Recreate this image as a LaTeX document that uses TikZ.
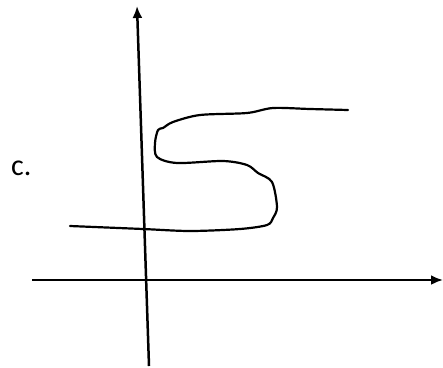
\documentclass[tikz,border=0pt]{standalone}
\usepackage{fontspec}
\setmainfont{Carlito}
\usetikzlibrary{arrows.meta}
\begin{document}
\begin{tikzpicture}[x=1pt,y=-1pt,
  axis/.style={line width=2.5pt,-{Latex[length=12pt,width=10pt]}},
  curve/.style={line width=2.2pt,line join=round,line cap=round}]
\useasboundingbox (0,0) rectangle (443,367);
\coordinate (ybot) at (149,366);
\coordinate (ytop) at (137,6);
\coordinate (xl) at (32,280);
\coordinate (xr) at (443,280);
\draw[axis] (ybot) -- (ytop);
\draw[axis] (xl) -- (xr);
\node[anchor=base west,inner sep=0pt,font=\fontsize{30}{31}\selectfont] (lab) at (11,175) {c.};
\draw[curve] plot[smooth,tension=0.5] coordinates {
  (70,226) (143,229) (190,231) (240,229) (267,225) (273,218) (277,207)
  (272,182) (258,173) (247,165) (223,161) (177,163) (157,157) (155,143)
  (158,130) (163,128) (173,122) (200,115) (247,113) (273,108) (310,109) (348,110)};
\end{tikzpicture}
\end{document}
